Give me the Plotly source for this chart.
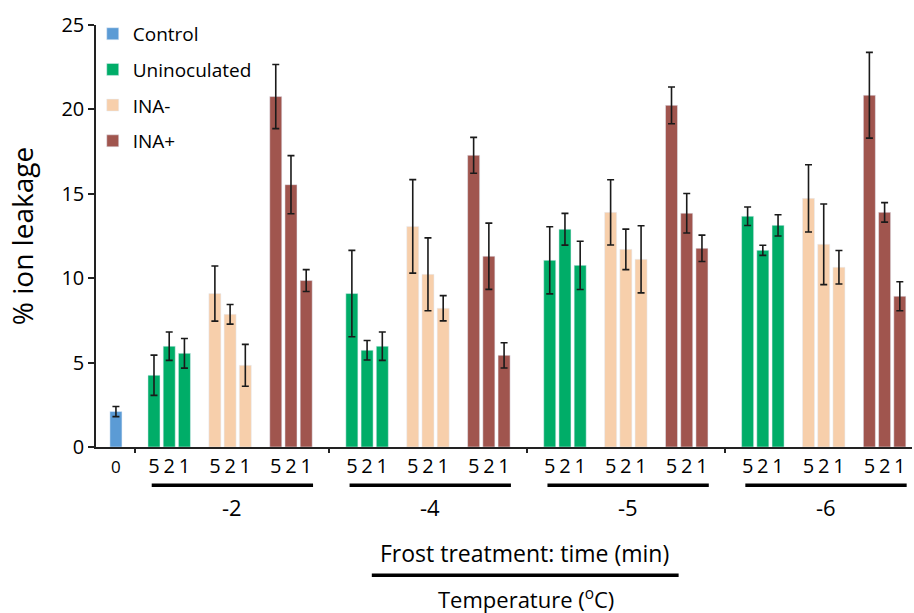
import plotly.graph_objects as go

# ---------------- data ----------------
temperatures = ["-2", "-4", "-5", "-6"]
times = ["5", "2", "1"]

control_value = [2.1]
control_err = [0.3]

# rows: temperature (-2, -4, -5, -6); columns: time (5, 2, 1 min)
uninoc_values = [[4.25, 5.97, 5.55], [9.09, 5.73, 5.97], [11.06, 12.90, 10.76], [13.67, 11.65, 13.13]]
uninoc_err = [[1.19, 0.84, 0.88], [2.56, 0.58, 0.84], [1.99, 0.94, 1.43], [0.55, 0.30, 0.63]]

inam_values = [[9.09, 7.86, 4.84], [13.07, 10.23, 8.22], [13.90, 11.71, 11.12], [14.73, 12.01, 10.65]]
inam_err = [[1.63, 0.58, 1.24], [2.77, 2.16, 0.75], [1.93, 1.20, 1.99], [1.99, 2.39, 0.99]]

inap_values = [[20.76, 15.54, 9.86], [17.28, 11.30, 5.43], [20.24, 13.85, 11.77], [20.84, 13.90, 8.93]]
inap_err = [[1.90, 1.72, 0.65], [1.06, 1.96, 0.75], [1.09, 1.17, 0.78], [2.54, 0.58, 0.86]]

y_ticks = [0, 5, 10, 15, 20, 25]

# ---------------- layout helpers ----------------
FONT = "Open Sans"
colors = {"Control": "#5b9bd5", "Uninoculated": "#00ad68", "INA-": "#f7cfab", "INA+": "#a0554e"}
series = [("Uninoculated", uninoc_values, uninoc_err),
          ("INA-", inam_values, inam_err),
          ("INA+", inap_values, inap_err)]

START, TEMP_STEP, SUB_STEP = 2.5, 13, 4


def pos(ti, si, bi):
    return START + TEMP_STEP * ti + SUB_STEP * si + bi


fig = go.Figure()
err_style = dict(type="data", symmetric=True, color="#1a1a1a", thickness=1.6, width=3.5)

fig.add_trace(go.Bar(x=[0], y=control_value, name="Control", marker_color=colors["Control"],
                     width=0.79, error_y=dict(array=control_err, **err_style),
                     legendgroup="c", showlegend=True))

tick_x, tick_t = [0], ["<span style='font-size:17px'>0</span>"]
for si, (name, vals, errs) in enumerate(series):
    xs, ys, es = [], [], []
    for ti in range(len(temperatures)):
        for bi in range(len(times)):
            xs.append(pos(ti, si, bi))
            ys.append(vals[ti][bi])
            es.append(errs[ti][bi])
            tick_x.append(pos(ti, si, bi))
            tick_t.append(times[bi])
    fig.add_trace(go.Bar(x=xs, y=ys, name=name, marker_color=colors[name], width=0.79,
                         error_y=dict(array=es, **err_style), legendgroup=name))

# temperature underline + labels
shapes = []
annotations = []
for ti, t in enumerate(temperatures):
    x0 = pos(ti, 0, 0) - 0.15
    x1 = pos(ti, 2, 2) + 0.45
    shapes.append(dict(type="line", xref="x", yref="paper", x0=x0, x1=x1, y0=-0.0905, y1=-0.0905,
                       line=dict(color="black", width=3.5)))
    annotations.append(dict(x=(x0 + x1) / 2, y=-0.143, xref="x", yref="paper", text=t, showarrow=False,
                            font=dict(family=FONT, size=22, color="black"), xanchor="center", yanchor="middle"))

annotations.append(dict(x=0.525, y=-0.252, xref="paper", yref="paper", text="Frost treatment: time (min)",
                        showarrow=False, font=dict(family=FONT, size=23, color="black"),
                        xanchor="center", yanchor="middle"))
shapes.append(dict(type="line", xref="paper", yref="paper", x0=0.338, x1=0.714, y0=-0.304, y1=-0.304,
                   line=dict(color="black", width=3.5)))
annotations.append(dict(x=0.527, y=-0.358, xref="paper", yref="paper", text="Temperature (<sup>o</sup>C)",
                        showarrow=False, font=dict(family=FONT, size=22, color="black"),
                        xanchor="center", yanchor="middle"))

separators = [1.25] + [pos(ti, 2, 2) + 1.5 for ti in range(len(temperatures) - 1)]

fig.update_layout(
    width=914, height=613,
    margin=dict(l=96, r=2, t=25, b=166),
    paper_bgcolor="white", plot_bgcolor="white",
    font=dict(family=FONT, color="black"),
    barmode="overlay",
    showlegend=True,
    legend=dict(x=-0.004, y=1.024, xanchor="left", yanchor="top", font=dict(size=19, family=FONT),
                tracegroupgap=8, bgcolor="rgba(0,0,0,0)", itemclick=False),
    xaxis=dict(range=[-1.31, 52.3], tickvals=tick_x, ticktext=tick_t, ticks="",
               tickfont=dict(size=20, family=FONT), showline=True, linecolor="#222", linewidth=1.5,
               showgrid=False, zeroline=False, ticklabelstandoff=0),
    xaxis2=dict(range=[-1.31, 52.3], overlaying="x", anchor="y", side="bottom", tickvals=separators,
                ticks="outside", ticklen=5, tickcolor="#222", tickwidth=1.5, showticklabels=False,
                showline=False, showgrid=False, zeroline=False),
    yaxis=dict(range=[0, 25], tickvals=y_ticks, ticks="outside", ticklen=6, tickcolor="#222", tickwidth=1.5,
               tickfont=dict(size=20, family=FONT), showline=True, linecolor="#222", linewidth=1.5,
               showgrid=False, zeroline=False,
               title=dict(text="% ion leakage", font=dict(size=28, family=FONT), standoff=20)),
    shapes=shapes,
    annotations=annotations,
)

# invisible trace to activate xaxis2
fig.add_trace(go.Scatter(x=[separators[0]], y=[0], xaxis="x2", mode="markers",
                         marker=dict(opacity=0), showlegend=False, hoverinfo="skip"))

fig.write_html("out.html", config={"displayModeBar": False},
               post_script="document.body.style.margin='0';")
